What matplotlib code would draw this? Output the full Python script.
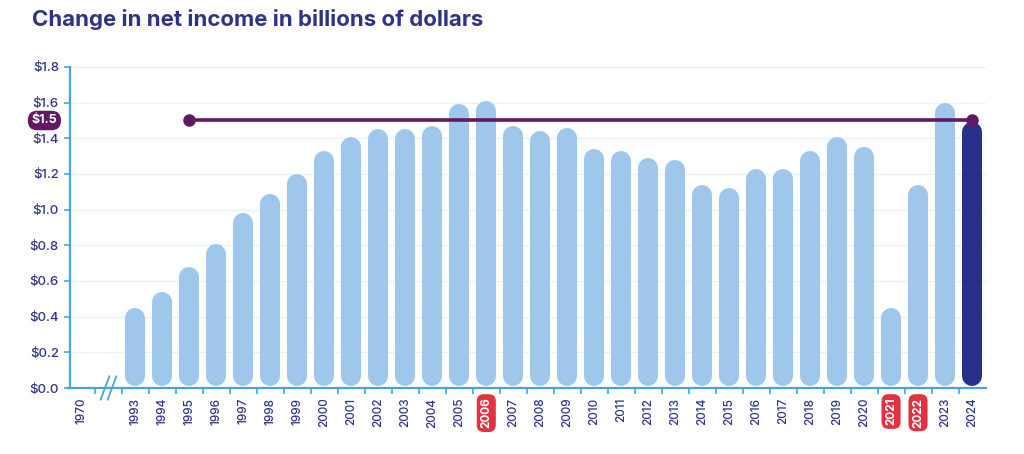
import matplotlib
matplotlib.use('Agg')
import matplotlib.pyplot as plt
from matplotlib.lines import Line2D

years = ['1970', '', '1993', '1994', '1995', '1996', '1997', '1998', '1999', '2000',
         '2001', '2002', '2003', '2004', '2005', '2006', '2007', '2008', '2009', '2010',
         '2011', '2012', '2013', '2014', '2015', '2016', '2017', '2018', '2019', '2020',
         '2021', '2022', '2023', '2024']
income = [None, None, 0.45, 0.54, 0.68, 0.81, 0.98, 1.09, 1.20, 1.33,
          1.41, 1.45, 1.45, 1.47, 1.59, 1.61, 1.47, 1.44, 1.46, 1.34,
          1.33, 1.29, 1.28, 1.14, 1.12, 1.23, 1.23, 1.33, 1.41, 1.35,
          0.45, 1.14, 1.60, 1.49]
highlight_years = ['2006', '2021', '2022']
current_year = '2024'
ref_value = 1.5
ref_start = '1995'
ref_label = '$1.5'
y_ticks = [0.0, 0.2, 0.4, 0.6, 0.8, 1.0, 1.2, 1.4, 1.6, 1.8]
title = 'Change in net income in billions of dollars'

NAVY = '#2f3386'
LIGHT = '#9fc7ec'
DARK = '#27318b'
PURPLE = '#5e1a63'
RED = '#e0323f'
AXIS = '#47a6d6'
GRID = '#eaf2f9'

plt.rcParams['font.family'] = ['Inter', 'DejaVu Sans']

fig = plt.figure(figsize=(10.24, 4.54), dpi=100)
ax = fig.add_axes([68 / 1024, 1 - 388 / 454, (985.5 - 68) / 1024, (388 - 67) / 454])
ax.set_xlim(-0.5, len(years) - 0.5)
ax.set_ylim(0, 1.8)

for t in y_ticks[1:]:
    ax.axhline(t, color=GRID, lw=1, zorder=0)

# bar width in pixels -> points, caps in data units
bar_px = 20
bar_pt = bar_px * 72 / fig.dpi
ax_h_px = (388 - 67)
cap = (bar_px / 2) * 1.8 / ax_h_px

for i, (yr, v) in enumerate(zip(years, income)):
    if v is None:
        continue
    col = DARK if yr == current_year else LIGHT
    ax.plot([i, i], [cap + 0.012, v - cap], color=col, lw=bar_pt,
            solid_capstyle='round', zorder=2)

# reference line
x0 = years.index(ref_start)
x1 = years.index(current_year)
ax.plot([x0, x1], [ref_value, ref_value], color=PURPLE, lw=2.6, zorder=3)
ax.plot([x0, x1], [ref_value, ref_value], 'o', color=PURPLE, ms=8, zorder=4)
ax.annotate(ref_label, xy=(0, ref_value), xycoords=('axes fraction', 'data'),
            xytext=(-17, 0), textcoords='offset points', ha='center', va='center',
            fontsize=9, fontweight='bold', color='white', zorder=5, annotation_clip=False,
            bbox=dict(boxstyle='round,pad=0.3,rounding_size=0.75', fc=PURPLE, ec='none'))

# spines
for s in ['top', 'right']:
    ax.spines[s].set_visible(False)
ax.spines['left'].set_color(AXIS)
ax.spines['bottom'].set_color(AXIS)
ax.spines['left'].set_linewidth(1.6)
ax.spines['bottom'].set_linewidth(1.6)
ax.spines['left'].set_position(('data', -0.43))

ax.set_yticks(y_ticks)
ax.set_yticklabels(['${:.1f}'.format(t) for t in y_ticks])
ax.tick_params(axis='y', colors=AXIS, length=4, width=1.2, labelcolor=NAVY,
               labelsize=9.5, pad=4)

ax.set_xticks([i + 0.5 for i in range(len(years) - 1)], minor=False)
ax.set_xticklabels([])
ax.tick_params(axis='x', colors=AXIS, length=4, width=1.2)
for lab in ax.get_yticklabels():
    lab.set_fontweight('medium')

for i, yr in enumerate(years):
    if not yr:
        continue
    kw = dict(rotation=90, ha='center', va='top', fontsize=8.5, color=NAVY,
              fontweight='medium')
    if yr in highlight_years:
        kw.update(color='white', fontweight='bold',
                  bbox=dict(boxstyle='round,pad=0.3,rounding_size=0.6', fc=RED, ec='none'))
    ax.annotate(yr, xy=(i, 0), xycoords='data', xytext=(0, -7),
                textcoords='offset points', annotation_clip=False, **kw)

# axis break marks
for dx in (-0.13, 0.13):
    ax.add_line(Line2D([1 + dx - 0.16, 1 + dx + 0.16], [-0.065, 0.065], color=AXIS,
                       lw=1.3, clip_on=False, zorder=6))

fig.text(32 / 1024, 1 - 20 / 454, title, ha='left', va='center', fontsize=16,
         fontweight='bold', color=NAVY)

fig.savefig('out.png', dpi=100, facecolor='white')
